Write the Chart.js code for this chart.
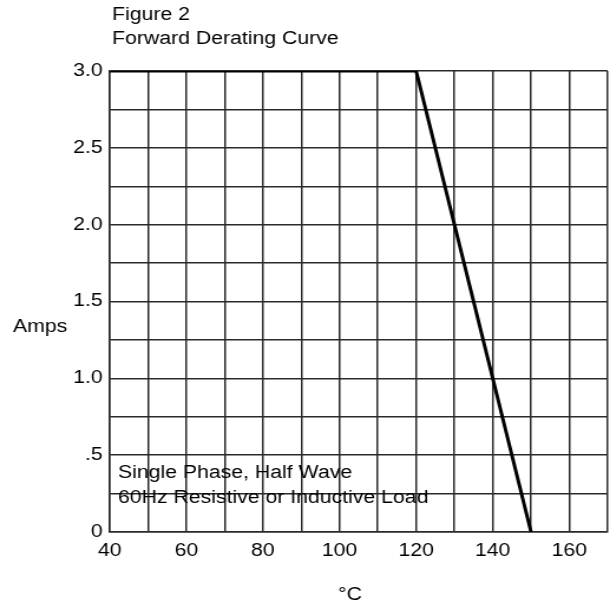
<!DOCTYPE html>
<html>
<head>
<meta charset="utf-8">
<script src="https://cdn.jsdelivr.net/npm/chart.js@4/dist/chart.umd.min.js"></script>
<style>
  html, body { margin: 0; padding: 0; background: #fff; }
  #graf { display: block; }
</style>
</head>
<body>
<!-- drawn narrower and stretched to 610 wide, the original text is wide like this -->
<canvas id="graf" width="517" height="608" style="width:610px;height:608px"></canvas>
<script>
const temperatura = [40, 120, 150];
const tok = [3.0, 3.0, 0];
const x_oznake = [40, 60, 80, 100, 120, 140, 160];
const y_oznake = [0, 0.5, 1.0, 1.5, 2.0, 2.5, 3.0];
const y_napisi = ['0', '.5', '1.0', '1.5', '2.0', '2.5', '3.0'];
const naslov = ['Figure 2', 'Forward Derating Curve'];
const opomba = ['Single Phase, Half Wave', '60Hz Resistive or Inductive Load'];

const pisava = '"Liberation Sans", Arial, sans-serif';
const vel_pisave = 18;
const crte = '#2a2a2a';
const razteg = 610 / 517;

// extra text (title, axis names, note) drawn on top
const besedila = {
    id: 'besedila',
    afterDraw(chart) {
        const ctx = chart.ctx;
        ctx.save();
        ctx.fillStyle = '#000';
        ctx.font = vel_pisave + 'px ' + pisava;
        ctx.textBaseline = 'middle';
        ctx.textAlign = 'left';
        ctx.fillText(naslov[0], 112 / razteg, 15);
        ctx.fillText(naslov[1], 112 / razteg, 39);
        ctx.fillText('Amps', 13 / razteg, 327);
        ctx.fillText(opomba[0], 118 / razteg, 473);
        ctx.fillText(opomba[1], 118 / razteg, 498);
        ctx.textAlign = 'center';
        ctx.fillText('\u00B0C', 350 / razteg, 595);
        ctx.restore();
    }
};

const graf = new Chart(document.getElementById('graf').getContext('2d'), {
    type: 'line',
    data: {
        datasets: [{
            data: temperatura.map((t, i) => ({ x: t, y: tok[i] })),
            borderColor: '#000',
            borderWidth: 3,
            pointRadius: 0,
            fill: false,
            tension: 0
        }]
    },
    options: {
        responsive: false,
        animation: false,
        layout: { padding: { top: 71, right: 2, left: 0, bottom: 0 } },
        plugins: {
            legend: { display: false },
            tooltip: { enabled: false }
        },
        scales: {
            x: {
                type: 'linear',
                min: 40,
                max: 170,
                afterFit(s) {
                    s.height = 76;
                    s.paddingLeft = 0;
                    s.paddingRight = 0;
                },
                ticks: {
                    stepSize: 10,
                    autoSkip: false,
                    maxRotation: 0,
                    padding: 8,
                    color: '#000',
                    font: { size: vel_pisave, family: pisava },
                    callback: v => x_oznake.includes(v) ? String(v) : ''
                },
                grid: { color: crte, lineWidth: 1.5, drawTicks: false },
                border: { color: crte, width: 1.5 }
            },
            y: {
                min: 0,
                max: 3,
                afterFit(s) { s.width = 93; },
                ticks: {
                    stepSize: 0.25,
                    autoSkip: false,
                    padding: 6,
                    color: '#000',
                    font: { size: vel_pisave, family: pisava },
                    callback: v => {
                        const i = y_oznake.findIndex(o => Math.abs(o - v) < 1e-6);
                        return i >= 0 ? y_napisi[i] : '';
                    }
                },
                grid: { color: crte, lineWidth: 1.5, drawTicks: false },
                border: { color: crte, width: 1.5 }
            }
        }
    },
    plugins: [besedila]
});
</script>
</body>
</html>
